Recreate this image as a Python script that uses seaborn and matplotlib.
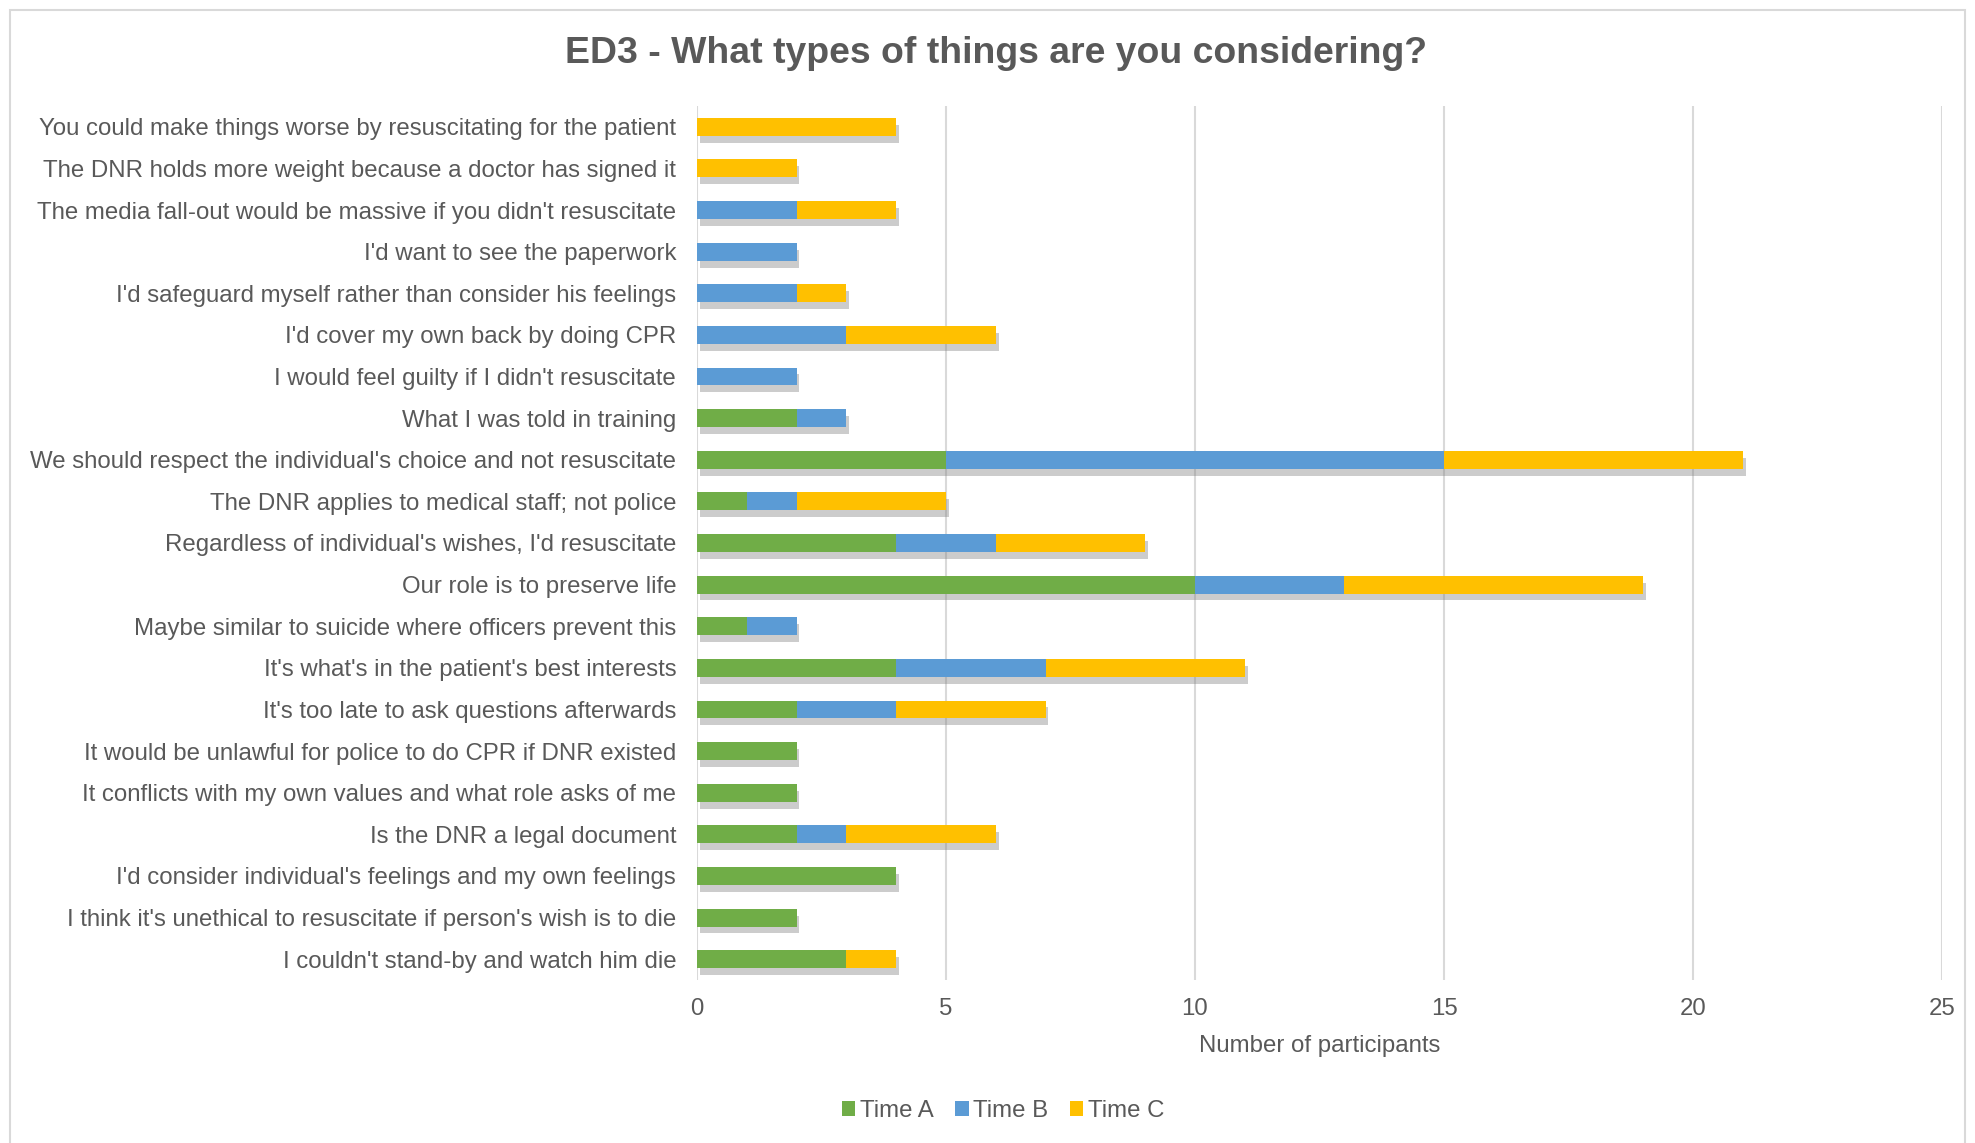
import numpy as np
import pandas as pd
import matplotlib
matplotlib.use("Agg")
import matplotlib.pyplot as plt
import matplotlib.patheffects as pe
from matplotlib.patches import Patch, Rectangle
import seaborn as sns

categories = [
    "You could make things worse by resuscitating for the patient",
    "The DNR holds more weight because a doctor has signed it",
    "The media fall-out would be massive if you didn't resuscitate",
    "I'd want to see the paperwork",
    "I'd safeguard myself rather than consider his feelings",
    "I'd cover my own back by doing CPR",
    "I would feel guilty if I didn't resuscitate",
    "What I was told in training",
    "We should respect the individual's choice and not resuscitate",
    "The DNR applies to medical staff; not police",
    "Regardless of individual's wishes, I'd resuscitate",
    "Our role is to preserve life",
    "Maybe similar to suicide where officers prevent this",
    "It's what's in the patient's best interests",
    "It's too late to ask questions afterwards",
    "It would be unlawful for police to do CPR if DNR existed",
    "It conflicts with my own values and what role asks of me",
    "Is the DNR a legal document",
    "I'd consider individual's feelings and my own feelings",
    "I think it's unethical to resuscitate if person's wish is to die",
    "I couldn't stand-by and watch him die",
]
time_a = [0, 0, 0, 0, 0, 0, 0, 2, 5, 1, 4, 10, 1, 4, 2, 2, 2, 2, 4, 2, 3]
time_b = [0, 0, 2, 2, 2, 3, 2, 1, 10, 1, 2, 3, 1, 3, 2, 0, 0, 1, 0, 0, 0]
time_c = [4, 2, 2, 0, 1, 3, 0, 0, 6, 3, 3, 6, 0, 4, 3, 0, 0, 3, 0, 0, 1]
series_names = ["Time A", "Time B", "Time C"]
x_ticks = [0, 5, 10, 15, 20, 25]

colors = {"Time A": "#70AD47", "Time B": "#5B9BD5", "Time C": "#FFC000"}
text_color = "#595959"
fs = 17.3

sns.set_theme(style="white")
plt.rcParams["font.family"] = ["Liberation Sans", "DejaVu Sans"]

df = pd.DataFrame({"cat": categories, "a": time_a, "b": time_b, "c": time_c})
df["ab"] = df["a"] + df["b"]
df["abc"] = df["ab"] + df["c"]

fig = plt.figure(figsize=(19.75, 11.43), dpi=100)
ax = fig.add_axes([0.3529, 0.1426, 0.6304, 0.7647])

bh = 0.43
sns.barplot(data=df, y="cat", x="abc", orient="h", color=colors["Time C"],
            saturation=1, width=bh, ax=ax, order=categories)
n_before = len(ax.patches)
for p in ax.patches:
    p.set_path_effects([pe.SimplePatchShadow(offset=(2, -5), shadow_rgbFace="#808080", alpha=0.4),
                        pe.Normal()])
    p.set_linewidth(0)
sns.barplot(data=df, y="cat", x="ab", orient="h", color=colors["Time B"],
            saturation=1, width=bh, ax=ax, order=categories)
sns.barplot(data=df, y="cat", x="a", orient="h", color=colors["Time A"],
            saturation=1, width=bh, ax=ax, order=categories)
for p in ax.patches[n_before:]:
    p.set_linewidth(0)

ax.set_xlim(0, 25)
ax.set_ylim(len(categories) - 0.5, -0.5)
ax.set_xticks(x_ticks)
ax.set_xticklabels([str(t) for t in x_ticks])
ax.xaxis.grid(True, color="#D9D9D9", linewidth=1.5)
ax.set_axisbelow(True)
for s in ax.spines.values():
    s.set_visible(False)
ax.tick_params(axis="both", length=0, labelsize=fs, labelcolor=text_color)
ax.tick_params(axis="y", pad=15)
ax.tick_params(axis="x", pad=13)
ax.set_ylabel("")
ax.set_xlabel("Number of participants", fontsize=fs, color=text_color, labelpad=11)

fig.text(0.5045, 0.953, "ED3 - What types of things are you considering?",
         ha="center", va="center", fontsize=26.9, fontweight="bold", color=text_color)

handles = [Patch(facecolor=colors[n], edgecolor="none", label=n) for n in series_names]
fig.legend(handles=handles, loc="center", bbox_to_anchor=(0.508, 0.028), ncol=3,
           frameon=False, fontsize=fs, handlelength=0.55, handleheight=0.55,
           handletextpad=0.2, columnspacing=0.9, labelcolor=text_color)

fig.patches.append(Rectangle((10 / 1975, -0.05), 1955 / 1975, 1.05 - 10 / 1143,
                             transform=fig.transFigure, fill=False,
                             edgecolor="#D9D9D9", linewidth=1.5))

fig.savefig("out.png", dpi=100, facecolor="white")
